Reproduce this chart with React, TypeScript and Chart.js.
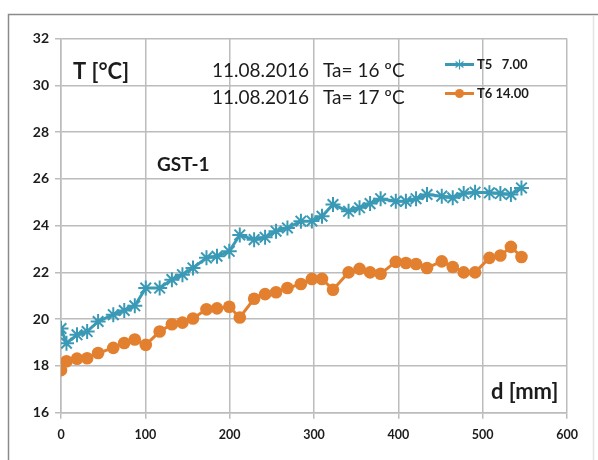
import React, { useEffect, useRef } from 'react';
import { Chart, registerables } from 'chart.js';

Chart.register(...registerables);

// distance along the sample [mm]
const distances = [
  0, 6.5, 19, 31, 44, 62, 75, 87.5, 100.5, 117,
  131.5, 144, 156.5, 172.5, 185, 199.5, 212, 229, 242, 255,
  268.5, 284.5, 297.5, 309.5, 322.5, 341, 354, 366.5, 379, 397,
  409, 421, 434, 451.5, 464.5, 477.5, 491, 508, 521, 533.5,
  546,
];

// temperature series [°C]
const t5Values = [
  19.6, 18.97, 19.33, 19.47, 19.9, 20.19, 20.37, 20.57, 21.33, 21.33,
  21.69, 21.9, 22.19, 22.62, 22.69, 22.9, 23.6, 23.4, 23.5, 23.76,
  23.9, 24.19, 24.2, 24.4, 24.9, 24.61, 24.76, 24.94, 25.15, 25.04,
  25.04, 25.15, 25.33, 25.26, 25.19, 25.37, 25.43, 25.4, 25.37, 25.33,
  25.61,
];
const t6Values = [
  17.82, 18.2, 18.31, 18.33, 18.55, 18.77, 18.98, 19.13, 18.9, 19.47,
  19.78, 19.85, 20.03, 20.42, 20.46, 20.53, 20.07, 20.87, 21.07, 21.15,
  21.33, 21.5, 21.72, 21.72, 21.26, 22.0, 22.15, 22.0, 21.94, 22.45,
  22.4, 22.36, 22.19, 22.47, 22.23, 22.0, 22.0, 22.62, 22.72, 23.09,
  22.66,
];

const seriesLabels = ['T5   7.00', 'T6 14.00'];
const xTicks = [0, 100, 200, 300, 400, 500, 600];
const yTicks = [16, 18, 20, 22, 24, 26, 28, 30, 32];

const yAxisTitle = 'T [°C]';
const xAxisTitle = 'd [mm]';
const sampleName = 'GST-1';
const dateLines = [
  ['11.08.2016', 'Ta= 16 ºC'],
  ['11.08.2016', 'Ta= 17 ºC'],
];

const T5_COLOR = '#3a9ab6';
const T6_COLOR = '#e3802f';
const GRID = '#bcbcbc';
const TEXT = '#1c1c1c';
const FONT = 'Lato, "Open Sans", sans-serif';

const overlay = {
  id: 'overlay',
  beforeDraw(chart: any) {
    const ctx = chart.ctx;
    ctx.save();
    ctx.fillStyle = '#ffffff';
    ctx.fillRect(0, 0, chart.width, chart.height);
    ctx.restore();
  },
  afterDraw(chart: any) {
    const ctx = chart.ctx;
    ctx.save();
    // outer frame
    ctx.lineWidth = 1.5;
    ctx.strokeStyle = '#8a8a8a';
    ctx.beginPath();
    ctx.moveTo(8.5, chart.height);
    ctx.lineTo(8.5, 14.5);
    ctx.lineTo(chart.width, 14.5);
    ctx.stroke();
    ctx.strokeStyle = '#e4e4e4';
    ctx.beginPath();
    ctx.moveTo(593.5, 15);
    ctx.lineTo(593.5, chart.height);
    ctx.stroke();

    // annotations
    ctx.fillStyle = TEXT;
    ctx.textBaseline = 'middle';
    ctx.textAlign = 'left';
    ctx.font = `bold 22px ${FONT}`;
    ctx.fillText(yAxisTitle, 73, 72);
    ctx.fillText(xAxisTitle, 491, 392);
    ctx.font = `bold 19px ${FONT}`;
    ctx.fillText(sampleName, 157, 165);
    ctx.font = `19px ${FONT}`;
    dateLines.forEach((ln, i) => {
      const y = 71 + i * 27;
      ctx.fillText(ln[0], 212, y);
      ctx.fillText(ln[1], 323, y);
    });

    // legend
    chart.data.datasets.forEach((ds: any, i: number) => {
      const y = 64.5 + i * 29;
      ctx.strokeStyle = ds.borderColor;
      ctx.lineWidth = 3;
      ctx.beginPath();
      ctx.moveTo(445, y);
      ctx.lineTo(474, y);
      ctx.stroke();
      const cx = 459.5;
      if (ds.pointStyle === 'star') {
        const r = 5;
        ctx.lineWidth = 1.2;
        ctx.beginPath();
        ctx.moveTo(cx, y - r); ctx.lineTo(cx, y + r);
        ctx.moveTo(cx - r * 0.8, y - r * 0.6); ctx.lineTo(cx + r * 0.8, y + r * 0.6);
        ctx.moveTo(cx - r * 0.8, y + r * 0.6); ctx.lineTo(cx + r * 0.8, y - r * 0.6);
        ctx.stroke();
      } else {
        ctx.fillStyle = ds.backgroundColor;
        ctx.beginPath();
        ctx.arc(cx, y, 4.5, 0, Math.PI * 2);
        ctx.fill();
      }
      ctx.fillStyle = TEXT;
      ctx.font = `bold 13px ${FONT}`;
      ctx.fillText(ds.label, 477, y);
    });
    ctx.restore();
  },
};

export default function App() {
  const ref = useRef<HTMLCanvasElement | null>(null);

  useEffect(() => {
    if (!ref.current) return;
    const chart = new Chart(ref.current, {
      type: 'line',
      data: {
        datasets: [
          {
            label: seriesLabels[0],
            data: distances.map((d, i) => ({ x: d, y: t5Values[i] })),
            borderColor: T5_COLOR,
            backgroundColor: T5_COLOR,
            borderWidth: 3,
            pointStyle: 'star',
            pointRadius: 7.5,
            pointBorderWidth: 2,
            pointBorderColor: T5_COLOR,
            tension: 0,
          },
          {
            label: seriesLabels[1],
            data: distances.map((d, i) => ({ x: d, y: t6Values[i] })),
            borderColor: T6_COLOR,
            backgroundColor: T6_COLOR,
            borderWidth: 3,
            pointStyle: 'circle',
            pointRadius: 6.3,
            pointBorderWidth: 0,
            tension: 0,
          },
        ],
      },
      options: {
        responsive: false,
        animation: false,
        devicePixelRatio: 1,
        layout: { padding: { top: 38.5, right: 31, left: 0, bottom: 0 } },
        plugins: { legend: { display: false }, tooltip: { enabled: false } },
        scales: {
          x: {
            type: 'linear',
            min: 0,
            max: 600,
            afterBuildTicks: (s: any) => { s.ticks = xTicks.map((v) => ({ value: v })); },
            afterFit: (s: any) => { s.height = 47.3; },
            grid: { color: GRID, lineWidth: 1.5, tickLength: 6, tickColor: GRID },
            border: { color: GRID, width: 1.5 },
            ticks: { color: TEXT, font: { family: FONT, size: 12.5, weight: 'bold' }, padding: 9, maxRotation: 0 },
          },
          y: {
            type: 'linear',
            min: 16,
            max: 32,
            afterBuildTicks: (s: any) => { s.ticks = yTicks.map((v) => ({ value: v })); },
            afterFit: (s: any) => { s.width = 61; },
            grid: { color: GRID, lineWidth: 1.5, tickLength: 6, tickColor: GRID },
            border: { color: GRID, width: 1.5 },
            ticks: { color: TEXT, font: { family: FONT, size: 14, weight: 'bold' }, padding: 6 },
          },
        },
      },
      plugins: [overlay],
    } as any);
    return () => chart.destroy();
  }, []);

  return (
    <canvas
      ref={ref}
      width={598}
      height={460}
      style={{ position: 'fixed', left: 0, top: 0, width: 598, height: 460 }}
    />
  );
}
